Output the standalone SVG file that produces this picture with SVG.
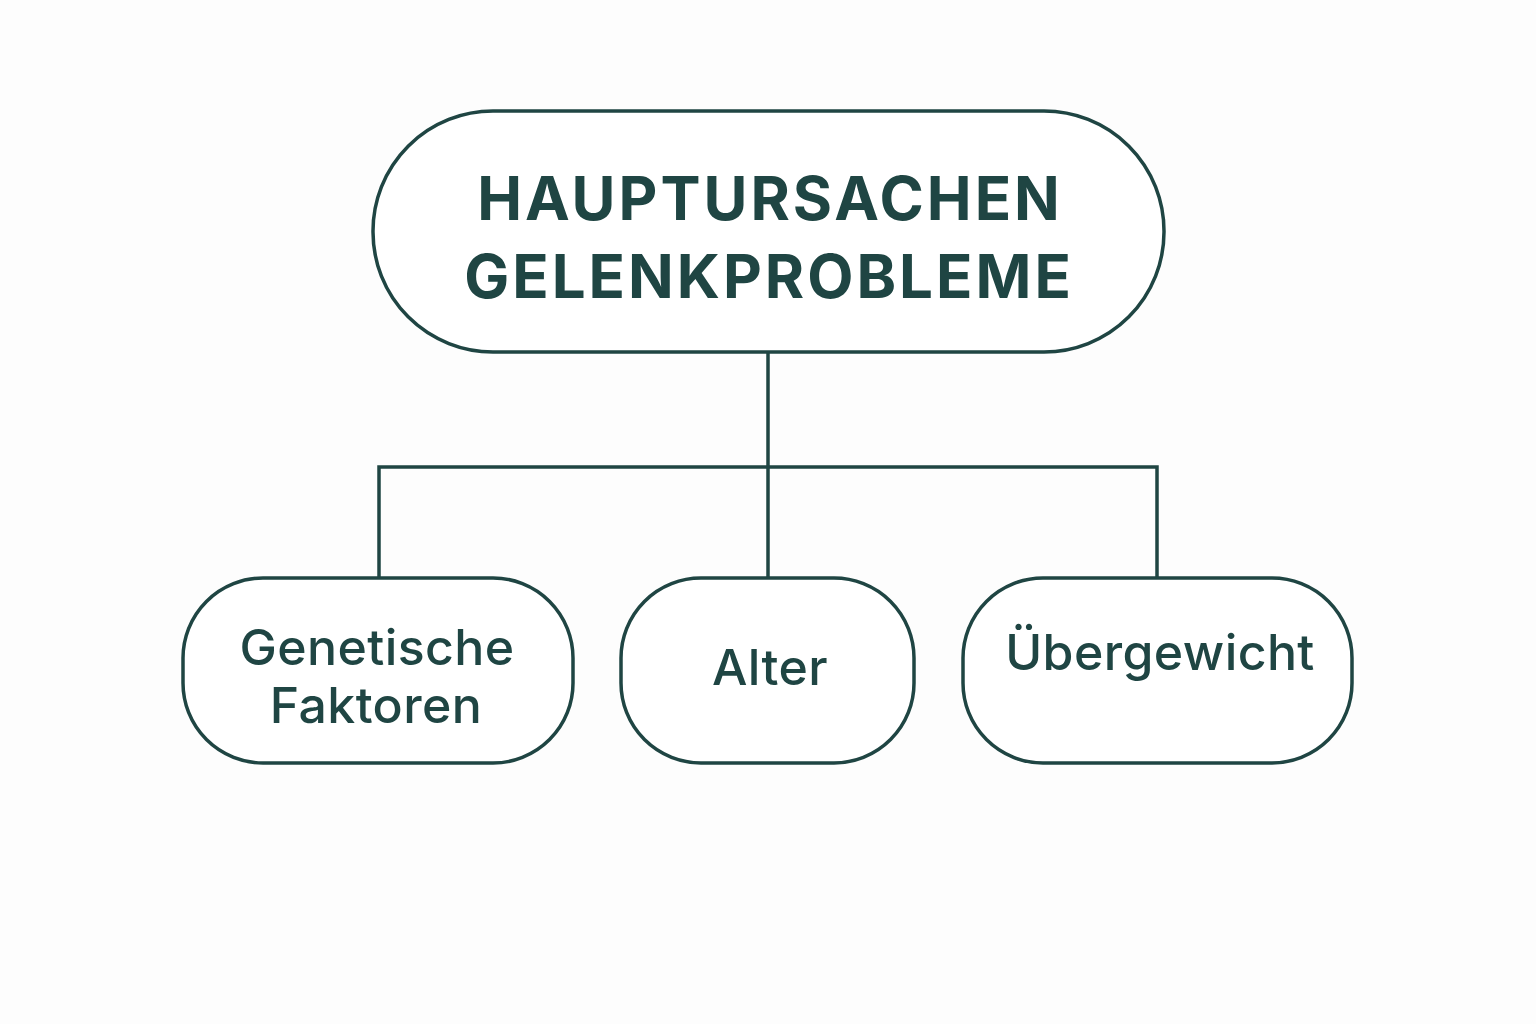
<svg xmlns="http://www.w3.org/2000/svg" width="1536" height="1024" viewBox="0 0 1536 1024">
<style>
.box{fill:#ffffff;stroke:#1f4543;stroke-width:3.5}
.ln{fill:none;stroke:#1f4543;stroke-width:3.5}
.t{font-family:Inter,"Liberation Sans",sans-serif;fill:#1f4543;text-anchor:middle}
.title{font-size:60px;font-weight:700;letter-spacing:3px}
.sub{font-size:50px;font-weight:500;letter-spacing:0.4px}
</style>
<rect width="1536" height="1024" fill="#fdfdfd"/>
<g id="connectors">
<path class="ln" d="M768 352 V467 M379 578 V467 H1157 V578 M768 467 V578"/>
</g>
<g id="root">
<rect class="box" x="373" y="111" width="791" height="241" rx="120"/>
<text class="t title" x="770" y="220">HAUPTURSACHEN</text>
<text class="t title" x="769" y="298">GELENKPROBLEME</text>
</g>
<g id="genetik">
<rect class="box" x="183" y="578" width="390" height="185" rx="80"/>
<text class="t sub" x="377" y="665">Genetische</text>
<text class="t sub" x="376" y="723">Faktoren</text>
</g>
<g id="alter">
<rect class="box" x="621" y="578" width="293" height="185" rx="80"/>
<text class="t sub" x="770" y="685">Alter</text>
</g>
<g id="uebergewicht">
<rect class="box" x="963" y="578" width="389" height="185" rx="80"/>
<text class="t sub" x="1160" y="670">Übergewicht</text>
</g>
</svg>
